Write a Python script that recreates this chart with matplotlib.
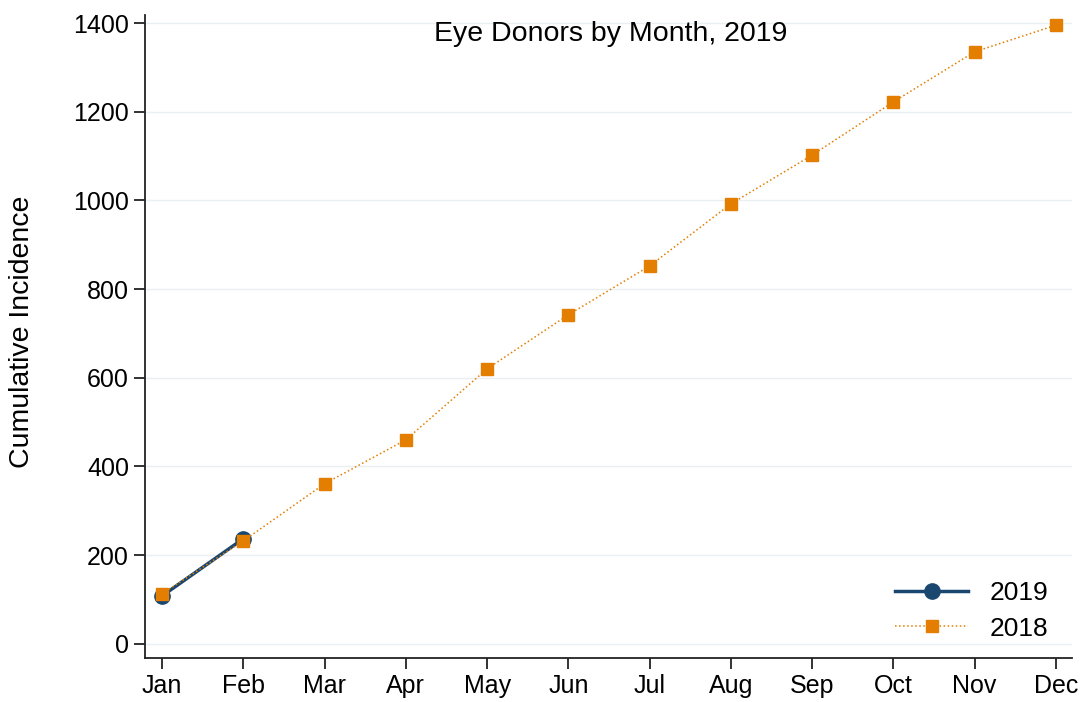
import matplotlib.pyplot as plt

plt.rcParams["font.family"] = ["Liberation Sans", "DejaVu Sans"]

months = ["Jan", "Feb", "Mar", "Apr", "May", "Jun",
          "Jul", "Aug", "Sep", "Oct", "Nov", "Dec"]
donors_2019 = [108, 237]
donors_2018 = [113, 232, 361, 460, 620, 742, 852, 992, 1102, 1222, 1335, 1395]

navy = "#1a476f"
orange = "#e37e00"

fig = plt.figure(figsize=(10.84, 7.02), dpi=100)
ax = fig.add_axes([0.1338, 0.0627, 0.8552, 0.9159])

ax.plot(range(len(donors_2019)), donors_2019, "-", color=navy, lw=2.5,
        marker="o", ms=11, label="2019", zorder=2)
ax.plot(range(len(donors_2018)), donors_2018, ":", color=orange, lw=1.1,
        marker="s", ms=9, label="2018", zorder=3)

ax.set_xlim(-0.21, 11.2)
ax.set_ylim(-32, 1418)
ax.set_xticks(range(len(months)))
ax.set_xticklabels(months)
ax.set_yticks(range(0, 1401, 200))

ax.grid(axis="y", color="#eaeff2", lw=1)
ax.set_axisbelow(True)
for side in ["top", "right"]:
    ax.spines[side].set_visible(False)
for side in ["left", "bottom"]:
    ax.spines[side].set_color("#222222")
    ax.spines[side].set_linewidth(1.3)

ax.tick_params(labelsize=18, length=8, width=1.3, color="#222222")
ax.set_ylabel("Cumulative Incidence", fontsize=20.5)
ax.yaxis.set_label_coords(-0.119, 0.507)
ax.text(0.502, 0.970, "Eye Donors by Month, 2019", transform=ax.transAxes,
        ha="center", va="center", fontsize=20.5)

ax.legend(loc="lower right", frameon=False, fontsize=19, handlelength=2.8,
          bbox_to_anchor=(1.0, -0.01), labelspacing=0.45)

fig.savefig("out.png", dpi=100)
